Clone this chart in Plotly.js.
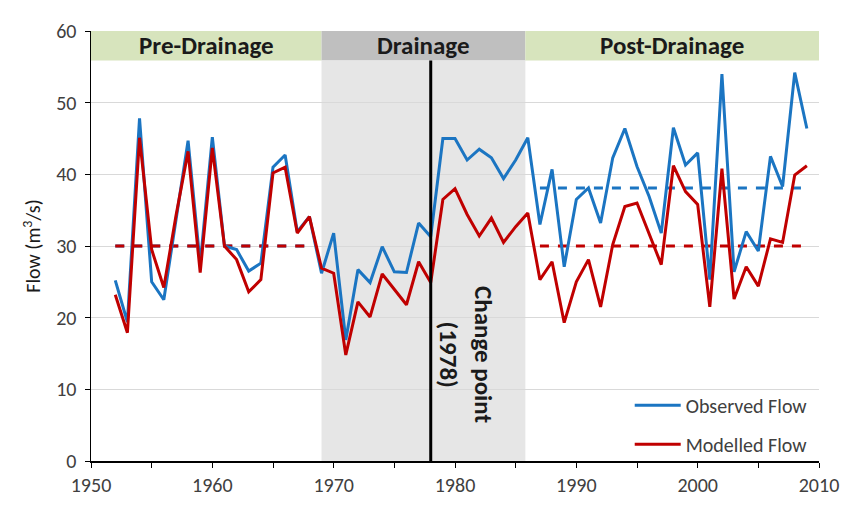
<!DOCTYPE html>
<html>
<head>
<meta charset="utf-8">
<script src="https://cdn.plot.ly/plotly-3.0.1.min.js"></script>
<style>
html,body{margin:0;padding:0;background:#fff;}
#chart{width:844px;height:513px;}
</style>
</head>
<body>
<div id="chart"></div>
<script>
// ---- data ----
const years = [1952,1953,1954,1955,1956,1957,1958,1959,1960,1961,1962,1963,1964,1965,1966,1967,1968,1969,1970,
  1971,1972,1973,1974,1975,1976,1977,1978,1979,1980,1981,1982,1983,1984,1985,1986,1987,1988,1989,1990,
  1991,1992,1993,1994,1995,1996,1997,1998,1999,2000,2001,2002,2003,2004,2005,2006,2007,2008,2009];
const observedFlow = [25.2,19.4,47.8,25.0,22.5,33.8,44.7,27.5,45.2,30.0,29.5,26.5,27.6,41.0,42.7,32.0,34.1,26.2,31.8,
  16.9,26.7,24.9,29.9,26.4,26.3,33.2,31.3,45.0,45.0,42.0,43.5,42.3,39.4,42.0,45.1,33.0,40.7,27.1,36.5,
  38.1,33.2,42.3,46.4,41.1,36.9,31.8,46.5,41.3,43.0,25.3,54.0,26.4,32.0,29.3,42.5,38.3,54.2,46.4];
const modelledFlow = [23.2,17.9,45.1,29.5,24.2,34.2,43.2,26.3,43.7,30.0,28.1,23.6,25.3,40.2,41.0,31.8,34.1,26.9,26.2,
  14.8,22.2,20.1,26.1,23.9,21.8,27.8,24.9,36.5,38.0,34.4,31.4,33.9,30.5,32.7,34.6,25.3,27.8,19.3,25.0,
  28.1,21.5,30.2,35.5,36.0,31.8,27.4,41.2,37.6,35.8,21.5,40.8,22.6,27.1,24.4,31.0,30.5,39.9,41.2];

// mean flows per period (pre-drainage, post-drainage)
const meanStart = [1952, 1987];
const meanEnd = [1968, 2009];
const meanObserved = [30.0, 38.1];
const meanModelled = [30.0, 30.0];

// periods
const periodNames = ['Pre-Drainage', 'Drainage', 'Post-Drainage'];
const periodStart = [1950, 1969, 1985.8];
const periodEnd = [1969, 1985.8, 2010];
const changePointYear = 1978;
const changeLabelLines = ['Change point', '(1978)'];

// ---- styling ----
const BLUE = '#1B75C2';
const RED = '#C00000';
const FONT = 'Carlito, Calibri, Lato, sans-serif';
const headerBottom = 55.9;
const yMax = 60;

const traces = [];
for (let i = 0; i < meanStart.length; i++) {
  traces.push({x:[meanStart[i], meanEnd[i]], y:[meanObserved[i], meanObserved[i]], mode:'lines',
    line:{color:BLUE, width:3, dash:'dash'}, showlegend:false, hoverinfo:'skip'});
}
for (let i = 0; i < meanStart.length; i++) {
  traces.push({x:[meanStart[i], meanEnd[i]], y:[meanModelled[i], meanModelled[i]], mode:'lines',
    line:{color:RED, width:3, dash:'dash'}, showlegend:false, hoverinfo:'skip'});
}
traces.push({x:years, y:observedFlow, mode:'lines', name:'Observed Flow', legendgroup:'a',
  line:{color:BLUE, width:3}});
traces.push({x:years, y:modelledFlow, mode:'lines', name:'Modelled Flow', legendgroup:'b',
  line:{color:RED, width:3}});

const shapes = [];
const headerColors = ['#D7E4BD', '#BFBFBF', '#D7E4BD'];
const bodyColors = [null, '#E6E6E6', null];
const annotations = [];
for (let i = 0; i < periodNames.length; i++) {
  shapes.push({type:'rect', xref:'x', yref:'y', x0:periodStart[i], x1:periodEnd[i], y0:headerBottom, y1:yMax,
    fillcolor:headerColors[i], line:{width:0}, layer:'below'});
  if (bodyColors[i]) {
    shapes.push({type:'rect', xref:'x', yref:'y', x0:periodStart[i], x1:periodEnd[i], y0:0, y1:headerBottom,
      fillcolor:bodyColors[i], line:{width:0}, layer:'below'});
  }
  annotations.push({x:(periodStart[i] + periodEnd[i]) / 2, y:(headerBottom + yMax) / 2, xref:'x', yref:'y',
    text:'<b>' + periodNames[i] + '</b>', showarrow:false, font:{family:FONT, size:25, color:'#1a1a1a'},
    xanchor:'center', yanchor:'middle'});
}
shapes.push({type:'line', xref:'x', yref:'y', x0:changePointYear, x1:changePointYear, y0:0, y1:headerBottom,
  line:{color:'#000', width:3}, layer:'above'});

annotations.push({x:1982.3, y:14.8, xref:'x', yref:'y', text:'<b>' + changeLabelLines[0] + '</b>', textangle:90,
  showarrow:false, font:{family:FONT, size:25, color:'#1a1a1a'}, xanchor:'center', yanchor:'middle'});
annotations.push({x:1979.45, y:14.8, xref:'x', yref:'y', text:'<b>' + changeLabelLines[1] + '</b>', textangle:90,
  showarrow:false, font:{family:FONT, size:25, color:'#1a1a1a'}, xanchor:'center', yanchor:'middle'});

const layout = {
  width:844, height:513,
  margin:{l:91, r:25, t:31, b:52},
  paper_bgcolor:'#fff', plot_bgcolor:'#fff',
  font:{family:FONT, size:20, color:'#404040'},
  xaxis:{range:[1950, 2010], dtick:10, tick0:1950, ticks:'outside', ticklen:5, tickcolor:'#000', tickwidth:1,
    showline:true, linecolor:'#000', linewidth:1.5, showgrid:false, zeroline:false,
    minor:{dtick:5, tick0:1950, ticks:'outside', ticklen:5, tickcolor:'#000', showgrid:false},
    tickfont:{family:FONT, size:20, color:'#404040'}},
  yaxis:{range:[0, 60], dtick:10, ticks:'outside', ticklen:5, tickcolor:'#000', tickwidth:1,
    showline:true, linecolor:'#000', linewidth:1.5, showgrid:true, gridcolor:'#D9D9D9', gridwidth:1, zeroline:false,
    tickfont:{family:FONT, size:20, color:'#404040'}, ticklabelstandoff:4,
    title:{text:'Flow (m<sup>3</sup>/s)', font:{family:FONT, size:20, color:'#1a1a1a'}, standoff:10}},
  showlegend:true,
  legend:{x:0.74, y:0.175, xanchor:'left', yanchor:'top', bgcolor:'rgba(0,0,0,0)', borderwidth:0,
    itemwidth:46, traceorder:'grouped', tracegroupgap:10, font:{family:FONT, size:20, color:'#404040'}},
  shapes:shapes,
  annotations:annotations
};

Plotly.newPlot('chart', traces, layout, {displayModeBar:false, staticPlot:true});
</script>
</body>
</html>
